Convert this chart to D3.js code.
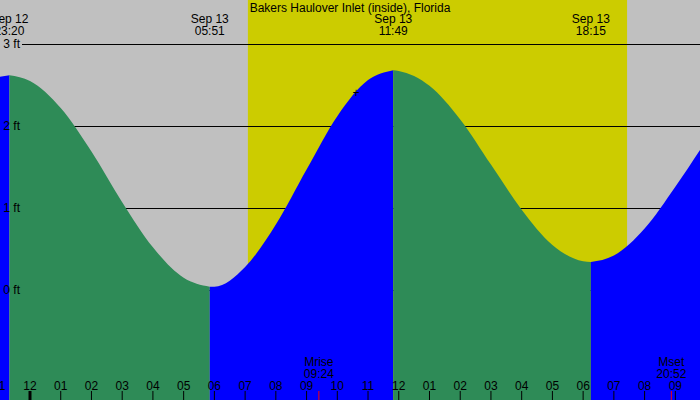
<!DOCTYPE html>
<html><head><meta charset="utf-8">
<script src="https://cdn.jsdelivr.net/npm/d3@7"></script>
<style>body{margin:0;background:#c0c0c0}svg{display:block}text{font-family:"Liberation Sans",Arial,sans-serif;font-size:12px}</style>
</head><body><svg id="c" width="700" height="400"></svg>
<script>
// hours from Sep 12 00:00
const tideHours = [-1,-0.67,0,1,2,3,4,5,5.85,6,7,8,9,10,11,11.82,12,13,14,15,16,17,18,18.25,19,20,21,22];
const tideFeet  = [2.60,2.62,2.55,2.22,1.69,1.07,0.52,0.15,0.04,0.04,0.28,0.80,1.47,2.12,2.56,2.68,2.67,2.49,2.08,1.53,0.98,0.55,0.35,0.34,0.42,0.75,1.26,1.82];
const extremeHours = [-0.67,5.85,11.82,18.25];
const extremeLabels = [["Sep 12","23:20"],["Sep 13","05:51"],["Sep 13","11:49"],["Sep 13","18:15"]];
const sunHours = [7.09,19.43];
const moonHours = [9.40,20.87];
const moonLabels = [["Mrise","09:24"],["Mset","20:52"]];
const feetTicks = [0,1,2,3];
const hourTicks = [23,24,25,26,27,28,29,30,31,32,33,34,35,36,37,38,39,40,41,42,43,44,45];
const hourTickLabels = ["11","12","01","02","03","04","05","06","07","08","09","10","11","12","01","02","03","04","05","06","07","08","09"];

const svg = d3.select("#c");
const W=700,H=400;
const x = d3.scaleLinear().domain([0,1]).range([30,60.73]);
const y = d3.scaleLinear().domain([0,3]).range([290,44]);
svg.append("rect").attr("width",W).attr("height",H).attr("fill","#c0c0c0");
svg.append("rect").attr("x",x(sunHours[0])).attr("y",0).attr("width",x(sunHours[1])-x(sunHours[0])).attr("height",H).attr("fill","#cccc00");
svg.selectAll(".g").data(feetTicks).enter().append("line")
  .attr("x1",22).attr("x2",W).attr("y1",d=>Math.round(y(d))+0.5).attr("y2",d=>Math.round(y(d))+0.5)
  .attr("stroke","#000").attr("shape-rendering","crispEdges");
const pts = tideHours.map((t,i)=>({t,h:tideFeet[i]}));
const bounds = [tideHours[0],...extremeHours,tideHours[tideHours.length-1]];
const area = d3.area().x(d=>x(d.t)).y0(H).y1(d=>y(d.h)).curve(d3.curveMonotoneX);
for(let i=0;i<bounds.length-1;i++){
  const seg = pts.filter(p=>p.t>=bounds[i]&&p.t<=bounds[i+1]);
  const falling = seg[0].h>seg[seg.length-1].h;
  svg.append("path").datum(seg).attr("d",area).attr("fill",falling?"#2e8b57":"#0000ff");
}
svg.selectAll(".fl").data(feetTicks).enter().append("text")
  .attr("x",20).attr("y",d=>y(d)+4).attr("text-anchor","end").text(d=>d+" ft");
svg.append("text").attr("x",350).attr("y",12).attr("text-anchor","middle").text("Bakers Haulover Inlet (inside), Florida");
extremeHours.forEach((t,i)=>{
  svg.append("text").attr("x",x(t)).attr("y",23).attr("text-anchor","middle").text(extremeLabels[i][0]);
  svg.append("text").attr("x",x(t)).attr("y",35).attr("text-anchor","middle").text(extremeLabels[i][1]);
});
moonHours.forEach((t,i)=>{
  svg.append("text").attr("x",x(t)).attr("y",366).attr("text-anchor","middle").text(moonLabels[i][0]);
  svg.append("text").attr("x",x(t)).attr("y",378).attr("text-anchor","middle").text(moonLabels[i][1]);
  svg.append("line").attr("x1",x(t)).attr("x2",x(t)).attr("y1",391).attr("y2",H).attr("stroke","#ff0000");
});
hourTicks.forEach((h,i)=>{
  const hx = x(h-24);
  svg.append("text").attr("x",hx).attr("y",390).attr("text-anchor","middle").text(hourTickLabels[i]);
  svg.append("line").attr("x1",hx).attr("x2",hx).attr("y1",391).attr("y2",H).attr("stroke","#000").attr("stroke-width",h===24?3:1);
});
svg.append("text").attr("x",356).attr("y",97).attr("text-anchor","middle").text("+");
</script></body></html>
